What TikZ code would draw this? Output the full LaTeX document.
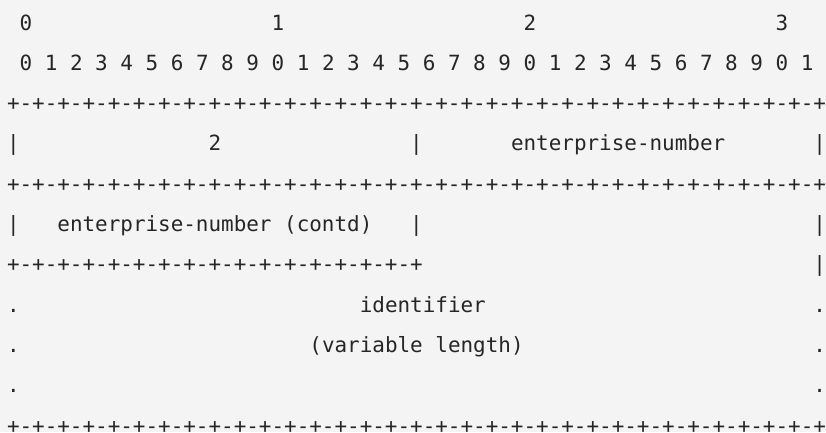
\documentclass[tikz,border=0pt]{standalone}
\usepackage{fontspec}
\newfontfamily\monofnt{DejaVu Sans Mono}
\definecolor{bgc}{RGB}{244,244,244}
\definecolor{txc}{RGB}{38,38,38}
\newcommand\pmeight{+-+-+-+-+-+-+-+-}
\begin{document}
\begin{tikzpicture}[x=12.6pt,y=-40.3pt,
  cell/.style={anchor=base west,inner sep=0pt,outer sep=0pt,text=txc,
    font=\fontsize{20.93}{24}\selectfont\monofnt}]
\fill[bgc] (0pt,0pt) rectangle (826pt,-432pt);
\useasboundingbox (0pt,0pt) rectangle (826pt,-432pt);
\begin{scope}[shift={(7pt,-30pt)}]
% line 0: bit tens
\node[cell] (t0) at (1,0) {0};
\node[cell] (t1) at (21,0) {1};
\node[cell] (t2) at (41,0) {2};
\node[cell] (t3) at (61,0) {3};
% line 1: bit units
\foreach \k in {0,...,31}{
  \pgfmathtruncatemacro\d{mod(\k,10)}
  \node[cell] (u\k) at ({2*\k+1},1) {\d};
}
% line 2
\node[cell] (r2) at (0,2) {\pmeight\pmeight\pmeight\pmeight+};
% line 3
\node[cell] (a0) at (0,3) {|};
\node[cell] (type) at (16,3) {2};
\node[cell] (a1) at (32,3) {|};
\node[cell] (ent) at (40,3) {enterprise-number};
\node[cell] (a2) at (64,3) {|};
% line 4
\node[cell] (r4) at (0,4) {\pmeight\pmeight\pmeight\pmeight+};
% line 5
\node[cell] (b0) at (0,5) {|};
\node[cell] (entc) at (4,5) {enterprise-number (contd)};
\node[cell] (b1) at (32,5) {|};
\node[cell] (b2) at (64,5) {|};
% line 6
\node[cell] (r6) at (0,6) {\pmeight\pmeight+};
\node[cell] (c2) at (64,6) {|};
% line 7
\node[cell] (d0) at (0,7) {.};
\node[cell] (ident) at (28,7) {identifier};
\node[cell] (d2) at (64,7) {.};
% line 8
\node[cell] (e0) at (0,8) {.};
\node[cell] (varl) at (24,8) {(variable length)};
\node[cell] (e2) at (64,8) {.};
% line 9
\node[cell] (f0) at (0,9) {.};
\node[cell] (f2) at (64,9) {.};
% line 10
\node[cell] (r10) at (0,10) {\pmeight\pmeight\pmeight\pmeight+};
\end{scope}
\end{tikzpicture}
\end{document}
